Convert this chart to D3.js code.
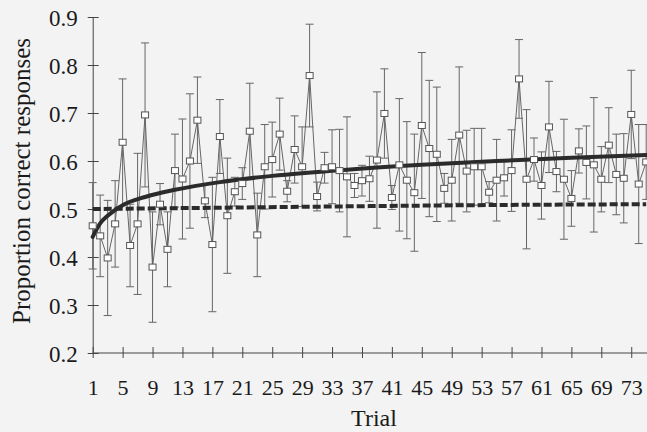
<!DOCTYPE html>
<html>
<head>
<meta charset="utf-8">
<script src="https://cdn.jsdelivr.net/npm/d3@7"></script>
<style>
  body { margin: 0; background: #f3f3f3; }
  svg { display: block; }
  text { font-family: "Liberation Serif", "Times New Roman", serif; fill: #1a1a1a; }
</style>
</head>
<body>
<svg id="chart" width="647" height="432"></svg>
<script>
// mean proportion correct per trial (1..75)
const means = [
  0.465, 0.444, 0.398, 0.469, 0.639, 0.424, 0.469, 0.696, 0.379, 0.510,
  0.416, 0.580, 0.5625, 0.600, 0.685, 0.517, 0.426, 0.651, 0.486, 0.536,
  0.553, 0.662, 0.446, 0.588, 0.603, 0.656, 0.537, 0.624, 0.588, 0.778,
  0.526, 0.586, 0.588, 0.580, 0.567, 0.549, 0.559, 0.563, 0.602, 0.699,
  0.524, 0.592, 0.560, 0.534, 0.674, 0.626, 0.614, 0.543, 0.560, 0.654,
  0.579, 0.588, 0.588, 0.535, 0.560, 0.565, 0.580, 0.771, 0.562, 0.603,
  0.549, 0.671, 0.578, 0.562, 0.522, 0.621, 0.597, 0.592, 0.562, 0.633,
  0.572, 0.564, 0.697, 0.552, 0.598
];
// half-length of each error bar
const errs = [
  0.090, 0.085, 0.120, 0.090, 0.132, 0.086, 0.147, 0.150, 0.115, 0.043,
  0.078, 0.076, 0.125, 0.140, 0.090, 0.035, 0.140, 0.077, 0.120, 0.030,
  0.033, 0.100, 0.087, 0.088, 0.078, 0.075, 0.022, 0.070, 0.083, 0.107,
  0.030, 0.032, 0.077, 0.086, 0.125, 0.025, 0.032, 0.047, 0.142, 0.093,
  0.025, 0.138, 0.122, 0.122, 0.152, 0.142, 0.140, 0.031, 0.085, 0.142,
  0.085, 0.080, 0.080, 0.022, 0.085, 0.038, 0.085, 0.082, 0.145, 0.045,
  0.070, 0.095, 0.042, 0.125, 0.058, 0.046, 0.076, 0.140, 0.068, 0.078,
  0.084, 0.093, 0.092, 0.124, 0.078
];
// trend curve (solid) and chance line (dashed), read at a few trials
const trendTrials = [1, 2, 3, 5, 8, 12, 18, 25, 35, 45, 55, 65, 75];
const trendValues = [0.442, 0.470, 0.486, 0.508, 0.525, 0.540, 0.556, 0.569, 0.582, 0.592, 0.600, 0.607, 0.6125];
const chanceTrials = [1, 20, 38, 52, 75];
const chanceValues = [0.500, 0.503, 0.506, 0.508, 0.510];

const xTicks = d3.range(1, 75, 4);
const yTicks = [0.2, 0.3, 0.4, 0.5, 0.6, 0.7, 0.8, 0.9];

const svg = d3.select("#chart");
const data = means.map((m, i) => ({ trial: i + 1, mean: m, err: errs[i] }));

const x = d3.scaleLinear().domain([1, 75]).range([92.7, 646.2]);
const y = d3.scaleLinear().domain([0.2, 0.9]).range([353, 17]);

// axes
const yAxis = svg.append("g")
  .attr("transform", "translate(92.7,0)")
  .call(d3.axisLeft(y).tickValues(yTicks).tickFormat(d3.format(".1f")).tickSizeOuter(0));
yAxis.selectAll(".tick line").attr("x1", -5).attr("x2", 6);
yAxis.selectAll(".tick text").attr("x", -15).attr("dy", "0.35em").style("font-size", "23px");

const xAxis = svg.append("g")
  .attr("transform", "translate(0,353)")
  .call(d3.axisBottom(x).tickValues(xTicks).tickSizeOuter(0));
xAxis.select(".domain").attr("d", "M92.7,0H647");
xAxis.selectAll(".tick line").attr("y1", -6).attr("y2", 5);
xAxis.selectAll(".tick text").attr("y", 42).attr("dy", 0).style("font-size", "22px");
svg.selectAll(".domain, .tick line").attr("stroke", "#444");
svg.selectAll(".tick text").attr("fill", "#1a1a1a").style("font-family", "'Liberation Serif', serif");

svg.append("text")
  .attr("x", 374).attr("y", 426)
  .attr("text-anchor", "middle")
  .style("font-size", "24px")
  .text("Trial");

svg.append("text")
  .attr("transform", "translate(30,181) rotate(-90)")
  .attr("text-anchor", "middle")
  .style("font-size", "25px")
  .text("Proportion correct responses");

// error bars
const capW = 4;
const bars = svg.append("g").attr("stroke", "#666").attr("stroke-width", 1);
bars.selectAll(".eb").data(data).enter().append("path")
  .attr("fill", "none")
  .attr("d", d => {
    const cx = x(d.trial), y1 = y(d.mean + d.err), y2 = y(d.mean - d.err);
    return `M${cx - capW},${y1}H${cx + capW}M${cx},${y1}V${y2}M${cx - capW},${y2}H${cx + capW}`;
  });

// connecting line
const line = d3.line().x(d => x(d.trial)).y(d => y(d.mean));
svg.append("path").datum(data)
  .attr("fill", "none").attr("stroke", "#666").attr("stroke-width", 1)
  .attr("d", line);

// chance line (dashed) and trend curve
const chance = chanceTrials.map((t, i) => ({ trial: t, v: chanceValues[i] }));
const trend = trendTrials.map((t, i) => ({ trial: t, v: trendValues[i] }));
const smooth = d3.line().curve(d3.curveMonotoneX).x(d => x(d.trial)).y(d => y(d.v));

svg.append("path").datum(chance)
  .attr("fill", "none").attr("stroke", "#2b2b2b").attr("stroke-width", 4)
  .attr("stroke-dasharray", "8,3")
  .attr("d", smooth);

svg.append("path").datum(trend)
  .attr("fill", "none").attr("stroke", "#2b2b2b").attr("stroke-width", 4)
  .attr("stroke-linecap", "round")
  .attr("d", smooth);

// markers
svg.append("g").selectAll("rect").data(data).enter().append("rect")
  .attr("x", d => x(d.trial) - 3.5)
  .attr("y", d => y(d.mean) - 3)
  .attr("width", 7).attr("height", 6)
  .attr("fill", "#fff").attr("stroke", "#555").attr("stroke-width", 1);
</script>
</body>
</html>
